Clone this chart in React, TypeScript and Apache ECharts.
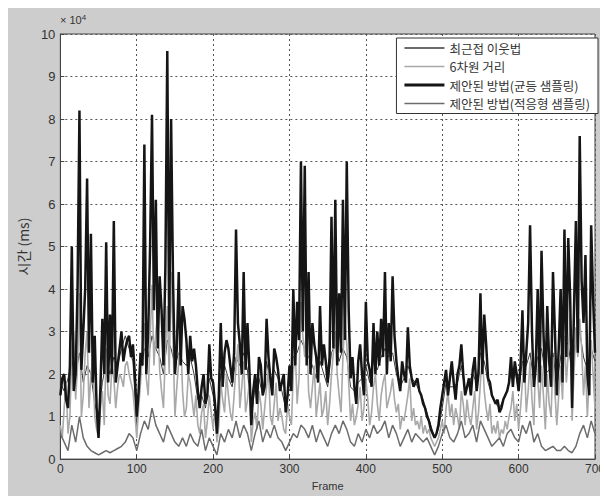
import React, { useEffect, useRef } from "react";
import * as echarts from "echarts";

const seriesNames = [
  "최근접 이웃법",
  "6차원 거리",
  "제안된 방법(균등 샘플링)",
  "제안된 방법(적응형 샘플링)",
];

const frameStep = 5;
const xTicks = [0, 100, 200, 300, 400, 500, 600, 700];
const yTicks = [0, 1, 2, 3, 4, 5, 6, 7, 8, 9, 10];

// values in units of 1e4 ms, one per 5 frames (0..700)
const nearest = [
  1.8, 1.6, 1.9, 2.3, 2.0, 2.5, 1.8, 2.2, 2.0, 1.3, 1.0, 1.8, 2.3, 2.0, 2.4, 2.2, 2.6, 2.9, 2.6, 2.3,
  0.8, 2.0, 2.6, 2.4, 2.9, 2.6, 2.4, 2.0, 2.8, 2.6, 2.2, 2.5, 2.3, 2.2, 2.4, 2.0, 1.4, 1.5, 1.2, 1.9,
  1.5, 0.8, 2.0, 2.2, 1.9, 1.7, 2.4, 2.2, 2.5, 2.1, 1.0, 1.7, 1.9, 1.5, 2.3, 1.8, 2.1, 1.9, 1.6, 1.2,
  1.8, 2.4, 2.5, 2.8, 2.6, 2.4, 2.2, 1.9, 2.3, 2.0, 1.7, 2.5, 2.7, 2.3, 2.6, 2.4, 1.7, 1.6, 1.8, 1.9,
  2.2, 1.8, 2.3, 2.1, 2.4, 2.6, 2.4, 2.5, 2.0, 1.7, 1.9, 2.2, 1.9, 1.8, 1.6, 1.4, 1.1, 0.8, 0.5, 0.7,
  1.2, 1.8, 1.7, 1.7, 1.8, 2.2, 1.6, 1.8, 2.0, 1.8, 2.5, 2.3, 1.8, 1.5, 1.3, 1.2, 1.4, 1.6, 2.0, 2.1,
  1.6, 2.3, 2.2, 2.5, 1.8, 2.4, 2.6, 2.0, 2.1, 2.5, 1.7, 2.4, 2.8, 2.7, 2.0, 2.8, 3.0, 2.4, 2.1, 2.6,
  2.3,
];

// 6D distance: values at frames 0,5,...,700 and the in-between frames 2.5,7.5,...
const sixD = [
  0.8, 1.2, 0.6, 2.5, 1.4, 3.9, 1.5, 3.0, 2.0, 1.0, 0.5, 1.6, 2.6, 1.3, 1.9, 1.7, 1.9, 2.2, 2.0, 1.6,
  0.5, 1.8, 3.2, 1.5, 4.1, 3.0, 2.1, 1.2, 3.6, 4.4, 1.0, 2.3, 1.6, 1.2, 1.8, 1.0, 0.8, 1.1, 0.5, 1.5,
  0.7, 0.4, 1.8, 1.1, 1.5, 0.9, 2.2, 1.2, 2.3, 1.4, 0.4, 1.1, 1.6, 0.7, 1.7, 1.0, 1.3, 0.9, 1.0, 0.6,
  1.0, 2.0, 1.3, 3.7, 2.4, 1.6, 1.7, 1.0, 1.8, 1.2, 0.8, 2.0, 3.0, 1.5, 2.4, 2.7, 0.9, 0.8, 1.3, 0.9,
  1.9, 0.8, 1.7, 1.3, 1.5, 2.0, 1.4, 1.9, 1.1, 0.7, 0.9, 1.5, 0.9, 0.8, 0.7, 0.6, 0.6, 0.5, 0.3, 0.5,
  0.9, 1.2, 1.0, 0.8, 1.0, 1.6, 0.8, 1.0, 1.2, 0.7, 1.8, 1.6, 0.9, 0.6, 0.6, 0.5, 0.6, 0.7, 1.2, 0.9,
  0.7, 1.8, 1.1, 2.3, 0.8, 1.9, 2.2, 0.7, 1.3, 2.4, 0.8, 2.2, 2.9, 2.5, 0.9, 3.1, 3.3, 1.5, 1.0, 2.8,
  1.2,
];
const sixDMid = [
  0.5, 1.8, 1.0, 3.0, 2.2, 1.0, 2.5, 1.2, 2.4, 0.7, 1.2, 0.8, 1.5, 2.2, 1.2, 2.0, 1.7, 2.3, 1.8, 1.1,
  1.2, 2.6, 1.9, 2.8, 2.2, 3.4, 1.6, 2.5, 2.0, 2.8, 1.7, 2.9, 1.0, 2.0, 1.4, 1.5, 0.6, 1.3, 0.9, 1.1,
  1.2, 0.8, 1.4, 2.0, 1.1, 1.5, 2.7, 1.7, 1.1, 1.8, 0.9, 0.7, 1.3, 1.2, 2.1, 0.8, 1.8, 1.2, 0.7, 1.3,
  0.8, 2.6, 1.9, 2.9, 3.2, 1.2, 2.2, 1.4, 1.0, 1.6, 1.3, 2.5, 2.0, 1.1, 3.3, 1.8, 1.3, 1.0, 1.7, 1.2,
  1.4, 1.1, 2.0, 0.9, 1.8, 1.2, 1.6, 1.4, 1.3, 1.0, 1.2, 1.9, 1.2, 0.9, 1.0, 0.8, 0.7, 0.4, 0.4, 0.7,
  0.6, 1.6, 1.3, 1.2, 0.7, 1.3, 1.4, 0.8, 1.6, 1.1, 2.5, 1.2, 1.3, 0.8, 0.9, 0.7, 0.9, 1.0, 1.6, 1.3,
  1.2, 2.4, 1.6, 1.4, 2.6, 1.2, 1.5, 2.0, 1.0, 1.6, 1.5, 1.4, 1.8, 3.4, 2.0, 2.4, 2.6, 2.2, 1.9, 2.0,
];

// proposed (uniform sampling): frames 0,5,...,700 and the in-between frames
const uniform = [
  1.5, 2.0, 1.2, 5.0, 2.0, 8.2, 3.0, 6.6, 5.3, 2.9, 0.5, 3.3, 5.1, 3.4, 5.6, 2.2, 3.0, 2.6, 2.9, 2.7,
  1.0, 2.5, 7.4, 3.0, 8.1, 6.1, 4.3, 2.2, 9.6, 8.0, 2.0, 4.4, 3.6, 2.8, 2.9, 2.6, 1.6, 1.7, 1.3, 2.7,
  1.8, 0.6, 3.2, 2.5, 2.6, 1.8, 5.4, 2.7, 4.4, 3.2, 0.8, 2.0, 2.4, 1.5, 3.3, 1.9, 2.6, 2.1, 1.8, 1.1,
  2.2, 4.0, 3.7, 7.0, 6.9, 4.4, 3.2, 2.4, 3.6, 2.7, 1.8, 5.7, 6.1, 3.9, 6.1, 7.0, 1.9, 1.7, 2.3, 2.0,
  3.7, 2.1, 3.2, 3.0, 3.3, 4.4, 3.2, 4.3, 2.3, 1.6, 2.0, 3.1, 1.9, 1.8, 1.6, 1.3, 1.0, 0.7, 0.5, 0.8,
  1.5, 2.1, 1.9, 1.8, 2.0, 2.7, 1.5, 1.9, 2.1, 1.6, 3.9, 3.4, 1.9, 1.5, 1.3, 1.1, 1.4, 1.6, 2.4, 2.3,
  1.6, 3.5, 2.5, 5.5, 1.7, 4.0, 4.9, 1.7, 2.3, 4.4, 1.5, 4.0, 5.4, 5.2, 1.2, 5.6, 7.6, 3.2, 2.0, 5.5,
  2.5,
];
const uniformMid = [
  1.9, 1.4, 2.2, 1.6, 4.0, 2.1, 4.0, 2.5, 1.8, 1.2, 1.7, 2.0, 1.8, 2.0, 1.8, 2.6, 2.3, 2.8, 2.4, 2.0,
  1.6, 2.2, 2.0, 5.0, 3.5, 2.6, 3.5, 4.5, 3.0, 4.2, 2.6, 2.2, 3.3, 2.0, 2.3, 2.2, 1.2, 2.0, 1.5, 1.9,
  1.3, 1.5, 1.7, 2.8, 2.2, 2.5, 3.2, 2.0, 2.1, 2.1, 1.6, 1.3, 2.2, 1.7, 2.4, 1.5, 2.4, 1.6, 2.0, 1.5,
  1.6, 2.2, 2.8, 3.0, 2.2, 2.0, 2.7, 1.8, 2.2, 2.3, 2.4, 2.6, 2.2, 2.5, 2.8, 3.5, 2.4, 1.3, 2.7, 1.5,
  2.3, 1.7, 2.0, 2.2, 2.4, 2.0, 2.3, 2.9, 1.9, 2.3, 1.8, 2.2, 1.7, 1.9, 1.5, 1.2, 0.9, 0.6, 0.6, 1.2,
  1.8, 1.5, 2.3, 1.4, 2.2, 2.0, 1.7, 1.5, 2.4, 2.0, 2.0, 2.7, 1.8, 1.4, 1.4, 1.2, 1.5, 1.8, 1.7, 2.0,
  2.2, 1.8, 3.2, 3.0, 2.2, 1.8, 3.0, 3.6, 1.7, 3.0, 2.6, 1.8, 2.4, 3.8, 3.5, 2.5, 4.2, 4.8, 1.5, 3.8,
];

const adaptive = [
  0.6, 0.4, 0.2, 0.8, 0.4, 1.0, 0.5, 0.3, 0.2, 0.15, 0.1, 0.15, 0.2, 0.15, 0.2, 0.25, 0.3, 0.4, 0.6, 0.5,
  0.2, 0.6, 0.9, 0.7, 1.2, 0.8, 0.6, 0.4, 0.8, 0.6, 0.4, 0.3, 0.5, 0.3, 0.6, 0.4, 0.3, 0.7, 0.2, 0.5,
  0.3, 0.1, 0.6, 0.4, 0.7, 0.5, 0.9, 0.5, 0.8, 0.6, 0.2, 0.6, 0.9, 0.4, 0.7, 0.5, 0.8, 0.5, 0.4, 0.2,
  0.4, 0.6, 0.5, 0.8, 0.7, 0.5, 0.8, 0.4, 0.7, 0.5, 0.3, 0.6, 0.8, 0.6, 0.9, 0.7, 0.4, 0.3, 0.6, 0.4,
  0.7, 0.5, 0.8, 0.6, 0.7, 0.9, 0.5, 0.8, 0.6, 0.3, 0.5, 0.7, 0.4, 0.6, 0.5, 0.4, 0.5, 0.3, 0.1, 0.3,
  0.6, 0.8, 0.5, 0.4, 0.6, 0.9, 0.5, 0.6, 0.8, 0.4, 0.9, 0.7, 0.5, 0.3, 0.4, 0.5, 0.3, 0.6, 0.7, 0.5,
  0.4, 0.8, 0.6, 0.9, 0.4, 0.6, 0.3, 0.2, 0.25, 0.3, 0.2, 0.2, 0.3, 0.2, 0.15, 0.3, 0.6, 0.8, 0.5, 0.9,
  0.6,
];

const FONT = "'Liberation Sans', Arial, 'Noto Sans CJK KR', sans-serif";
const KFONT = "'Noto Sans CJK KR', sans-serif";

const toPairs = (arr: number[]) => arr.map((v, i) => [i * frameStep, v]);
const toPairsWithMid = (arr: number[], mid: number[]) => {
  const out: number[][] = [];
  arr.forEach((v, i) => {
    out.push([i * frameStep, v]);
    if (i < mid.length) out.push([i * frameStep + frameStep / 2, mid[i]]);
  });
  return out;
};

export default function App() {
  const ref = useRef<HTMLDivElement>(null);
  useEffect(() => {
    if (!ref.current) return;
    const chart = echarts.init(ref.current, undefined, { renderer: "svg" });
    const colors = ["#3a3a3a", "#a9a9a9", "#151515", "#6c6c6c"];
    const widths = [1, 1.6, 2.5, 1.5];
    const data = [
      toPairs(nearest),
      toPairsWithMid(sixD, sixDMid),
      toPairsWithMid(uniform, uniformMid),
      toPairs(adaptive),
    ];
    const thin = "path://M0,6.25H40V7.75H0Z M0,0H0.01V0.01H0Z M0,14H0.01V13.99H0Z";
    const thick = "path://M0,5.5H40V8.5H0Z M0,0H0.01V0.01H0Z M0,14H0.01V13.99H0Z";
    chart.setOption({
      animation: false,
      backgroundColor: "#cdcdcd",
      grid: {
        left: 50,
        right: 8,
        top: 26,
        bottom: 32,
        show: true,
        backgroundColor: "#ffffff",
        borderColor: "#444",
        borderWidth: 1,
      },
      legend: {
        orient: "vertical",
        right: 10,
        top: 30,
        backgroundColor: "#ffffff",
        borderColor: "#333",
        borderWidth: 1,
        padding: [3, 8, 3, 8],
        itemGap: 4.5,
        itemWidth: 40,
        itemHeight: 14,
        textStyle: { fontFamily: KFONT, fontSize: 12.5, color: "#333" },
        data: seriesNames.map((n, i) => ({ name: n, icon: i === 2 ? thick : thin })),
      },
      xAxis: {
        type: "value",
        min: 0,
        max: 700,
        interval: 100,
        name: "Frame",
        nameLocation: "middle",
        nameGap: 20,
        nameTextStyle: { fontFamily: FONT, fontSize: 11, color: "#333" },
        axisLine: { show: true, onZero: false, lineStyle: { color: "#444" } },
        axisTick: { show: true, inside: true, length: 4, lineStyle: { color: "#444" } },
        axisLabel: {
          fontFamily: FONT,
          fontSize: 12,
          color: "#333",
          margin: 4,
          formatter: (v: number) => (xTicks.includes(v) ? String(v) : ""),
        },
        splitLine: { show: true, lineStyle: { type: [2, 3], color: "#555", width: 1 } },
      },
      yAxis: {
        type: "value",
        min: 0,
        max: 10,
        interval: 1,
        name: "시간 (ms)",
        nameLocation: "middle",
        nameGap: 28,
        nameRotate: 90,
        nameTextStyle: { fontFamily: KFONT, fontSize: 14, color: "#333" },
        axisLine: { show: true, lineStyle: { color: "#444" } },
        axisTick: { show: true, inside: true, length: 4, lineStyle: { color: "#444" } },
        axisLabel: {
          fontFamily: FONT,
          fontSize: 13,
          color: "#333",
          margin: 5,
          formatter: (v: number) => (yTicks.includes(v) ? String(v) : ""),
        },
        splitLine: { show: true, lineStyle: { type: [2, 3], color: "#555", width: 1 } },
      },
      graphic: [
        {
          type: "text",
          left: 52,
          top: 5,
          style: {
            text: "{a|× 10}{b|4}",
            rich: {
              a: { fontFamily: FONT, fontSize: 11, fill: "#333" },
              b: { fontFamily: FONT, fontSize: 8, fill: "#333", verticalAlign: "top", padding: [0, 0, 6, 0] },
            },
          },
        },
      ],
      series: data.map((d, i) => ({
        name: seriesNames[i],
        type: "line",
        data: d,
        symbol: "none",
        showSymbol: false,
        lineStyle: { color: colors[i], width: widths[i] },
        itemStyle: { color: colors[i] },
        z: 2 + i,
      })),
    });
    return () => chart.dispose();
  }, []);
  return <div ref={ref} style={{ width: 600, height: 488 }} />;
}
